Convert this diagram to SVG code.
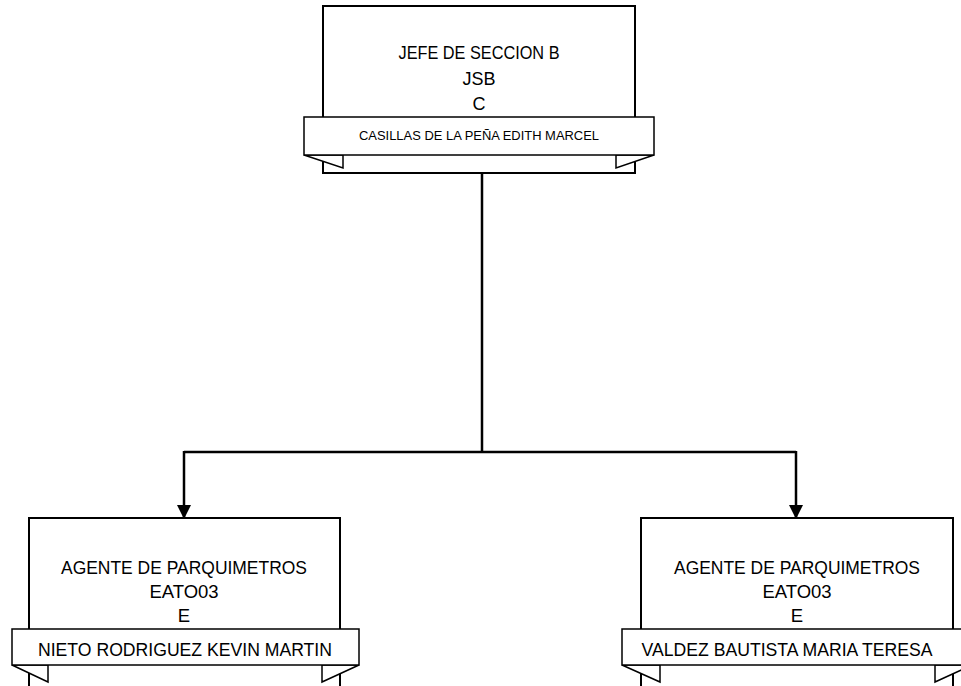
<svg xmlns="http://www.w3.org/2000/svg" width="961" height="686" viewBox="0 0 961 686">
<style>
.box{fill:#fff;stroke:#000;stroke-width:2}
.ban{fill:#fff;stroke:#000;stroke-width:1.5}
.t{font-family:"Liberation Sans",Arial,sans-serif;fill:#000;text-anchor:middle}
.conn{fill:none;stroke:#000;stroke-width:2.5}
</style>
<defs>
<marker id="arr" markerWidth="14" markerHeight="14" refX="13" refY="7" orient="auto" markerUnits="userSpaceOnUse" viewBox="0 0 14 14">
<path d="M0,0 L14,7 L0,14 Z" fill="#000"/>
</marker>
</defs>
<rect width="961" height="686" fill="#fff"/>
<g id="connectors">
<path class="conn" d="M482,173 V452"/>
<path class="conn" d="M184,452 H796"/>
<path class="conn" d="M184,451 V518" marker-end="url(#arr)"/>
<path class="conn" d="M796,451 V518" marker-end="url(#arr)"/>
</g>
<g id="node-jefe">
<rect class="box" x="323" y="6" width="312" height="167"/>
<text class="t" x="479" y="59" font-size="18" textLength="161" lengthAdjust="spacingAndGlyphs">JEFE DE SECCION B</text>
<text class="t" x="479" y="85" font-size="18">JSB</text>
<text class="t" x="479" y="110" font-size="18">C</text>
<path class="ban" d="M304,155 L343,168 V155 Z M654,155 L616,168 V155 Z"/>
<rect class="ban" x="304" y="117" width="350" height="38"/>
<text class="t" x="479" y="140" font-size="12.5" textLength="240" lengthAdjust="spacingAndGlyphs">CASILLAS DE LA PEÑA EDITH MARCEL</text>
</g>
<g id="node-agente1">
<rect class="box" x="29" y="518" width="311" height="170"/>
<text class="t" x="184" y="574" font-size="18.5" textLength="246" lengthAdjust="spacingAndGlyphs">AGENTE DE PARQUIMETROS</text>
<text class="t" x="184" y="598" font-size="18.5">EATO03</text>
<text class="t" x="184" y="622" font-size="18.5">E</text>
<path class="ban" d="M12,665 L48,682 V665 Z M359,665 L322,682 V665 Z"/>
<rect class="ban" x="12" y="629" width="347" height="36"/>
<text class="t" x="185" y="656" font-size="18.5" textLength="294" lengthAdjust="spacingAndGlyphs">NIETO RODRIGUEZ KEVIN MARTIN</text>
</g>
<g id="node-agente2">
<rect class="box" x="641" y="518" width="312" height="170"/>
<text class="t" x="797" y="574" font-size="18.5" textLength="246" lengthAdjust="spacingAndGlyphs">AGENTE DE PARQUIMETROS</text>
<text class="t" x="797" y="598" font-size="18.5">EATO03</text>
<text class="t" x="797" y="622" font-size="18.5">E</text>
<path class="ban" d="M622,665 L660,682 V665 Z M972,665 L935,682 V665 Z"/>
<rect class="ban" x="622" y="629" width="350" height="36"/>
<text class="t" x="787" y="656" font-size="18.5" textLength="291" lengthAdjust="spacingAndGlyphs">VALDEZ BAUTISTA MARIA TERESA</text>
</g>
</svg>
